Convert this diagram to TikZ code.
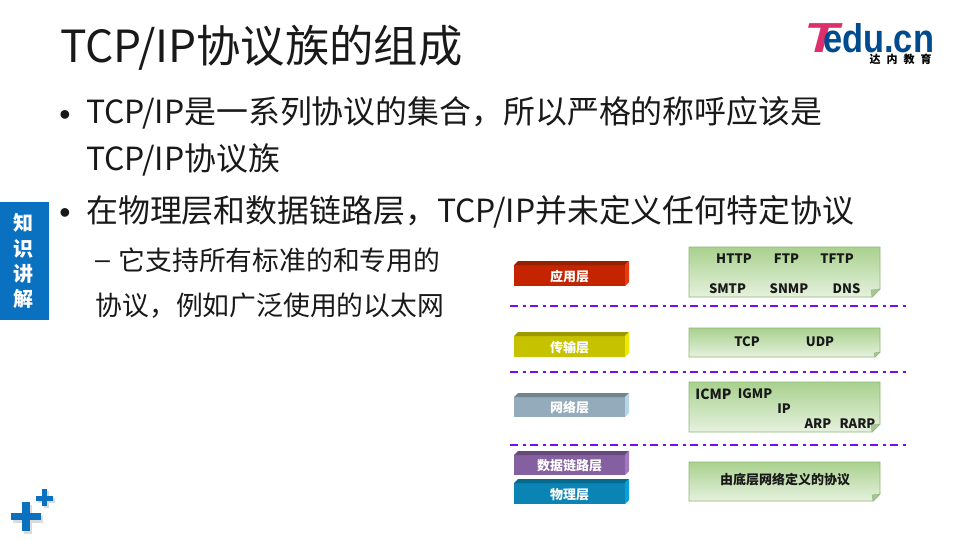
\documentclass[tikz,border=0pt]{standalone}
\usepackage{fontspec}
\setmainfont{Noto Sans CJK SC}
\newfontfamily\logofont{Liberation Sans}
\usetikzlibrary{calc}
\definecolor{sidebar}{HTML}{0A70C0}
\definecolor{noteline}{HTML}{8FB678}
\definecolor{notetop}{HTML}{A9D18E}
\definecolor{notebot}{HTML}{E6F1DE}
\definecolor{foldc}{HTML}{A8C596}
\definecolor{dashc}{HTML}{7A0AF0}
\definecolor{logoblue}{HTML}{004B8D}
\definecolor{logopink}{HTML}{DC2F6B}
\definecolor{fa}{HTML}{C42400}\definecolor{ta}{HTML}{962000}\definecolor{sa}{HTML}{E83A10}
\definecolor{fb}{HTML}{C6C200}\definecolor{tb}{HTML}{9C9800}\definecolor{sb}{HTML}{EDE900}
\definecolor{fc}{HTML}{93ABBB}\definecolor{tc}{HTML}{72858F}\definecolor{sc}{HTML}{B7D5E8}
\definecolor{fd}{HTML}{8560A0}\definecolor{td}{HTML}{67497C}\definecolor{sd}{HTML}{A478C0}
\definecolor{fe}{HTML}{0A83B5}\definecolor{te}{HTML}{066A8E}\definecolor{se}{HTML}{0AA0DC}
\tikzset{
  titletext/.style={anchor=west,inner sep=0pt,font=\fontsize{44.3}{50}\selectfont,text=black!90},
  bodytext/.style={anchor=west,inner sep=0pt,font=\fontsize{31.9}{38}\selectfont,text=black!90},
  subtext/.style={anchor=west,inner sep=0pt,font=\fontsize{26.8}{32}\selectfont,text=black!90},
  bullettext/.style={anchor=center,inner sep=0pt,font=\logofont\fontsize{32}{38}\selectfont,text=black!90},
  notetext/.style={inner sep=0pt,font=\bfseries\fontsize{13}{15}\selectfont,text=black!90},
  layertext/.style={inner sep=0pt,font=\bfseries\fontsize{13}{15}\selectfont,text=white},
  sidetext/.style={inner sep=0pt,font=\bfseries\fontsize{20}{24}\selectfont,text=white},
  sepline/.style={draw=dashc,line width=1.6pt,dash pattern=on 8pt off 4.5pt on 3pt off 4.5pt},
  plusbar/.style={fill=sidebar,draw=none},
  plusshade/.style={fill=black!14,draw=none},
}
% name, top y, bottom y, front, top band, side band, text
\newcommand{\layerbar}[7]{%
  \fill[#4] (514,#2+4) rectangle (625,#3);
  \fill[#5] (514,#2+4) -- (518,#2) -- (629,#2) -- (625,#2+4) -- cycle;
  \fill[#6] (625,#2+4) -- (629,#2) -- (629,#3-4) -- (625,#3) -- cycle;
  \node[layertext] (#1) at (569.5,{(#2+#3)/2+3}) {#7};
}
% top y, bottom y, fold size
\newcommand{\notebox}[3]{%
  \path[top color=notetop,bottom color=notebot,draw=noteline,line width=0.9pt]
    (689,#1) -- (880,#1) -- (880,#2-#3) -- (880-#3,#2) -- (689,#2) -- cycle;
  \fill[foldc,draw=noteline,line width=0.4pt] (880,#2-#3) -- (880-#3-1,#2-#3+1) -- (880-#3,#2) -- cycle;
}
\begin{document}
\begin{tikzpicture}[x=1pt,y=-1pt]
\useasboundingbox[fill=white] (0,0) rectangle (960,540);

% title and body
\node[titletext] (title) at (60,48) {TCP/IP协议族的组成};
\node[bullettext] (b1) at (65,118) {•};
\node[bodytext] (l1) at (86,113) {TCP/IP是一系列协议的集合，所以严格的称呼应该是};
\node[bodytext] (l2) at (86,160) {TCP/IP协议族};
\node[bullettext] (b2) at (65,216) {•};
\node[bodytext] (l3) at (86,212) {在物理层和数据链路层，TCP/IP并未定义任何特定协议};
\node[subtext,font=\logofont\fontsize{26.8}{32}\selectfont] (l4) at (95,265) {–};
\node[subtext] (l5) at (118.5,260) {它支持所有标准的和专用的};
\node[subtext] (l6) at (95.5,306) {协议，例如广泛使用的以太网};

% sidebar
\fill[sidebar] (0,202) rectangle (49,320);
\node[sidetext] (s1) at (23.5,223) {知};
\node[sidetext] (s2) at (23.5,249) {识};
\node[sidetext] (s3) at (23.5,274) {讲};
\node[sidetext] (s4) at (23.5,299) {解};

% plus signs
\fill[plusshade] (13,516) rectangle (43,523);
\fill[plusshade] (24,505) rectangle (32,534);
\fill[plusshade] (38,498) rectangle (55,503);
\fill[plusshade] (44,491) rectangle (49,508);
\fill[plusbar] (11,513) rectangle (41,520);
\fill[plusbar] (22,502) rectangle (30,531);
\fill[plusbar] (36,496) rectangle (53,501);
\fill[plusbar] (42,489) rectangle (47,506);

% logo
\node[anchor=base west,inner sep=0pt,font=\logofont\bfseries\itshape\fontsize{42}{42}\selectfont,text=logopink] (logoT) at (804,53) {\scalebox{1.35}[1]{T}};
\node[anchor=base west,inner sep=0pt,font=\logofont\bfseries\fontsize{40}{40}\selectfont,text=logoblue] (logoE) at (823,53) {\scalebox{0.86}[1]{edu.cn}};
\node[inner sep=0pt,font=\bfseries\fontsize{11}{12}\selectfont,text=black] (logoC) at (900.5,59.5) {达\hspace{6pt}内\hspace{6pt}教\hspace{6pt}育};

% layer bars
\layerbar{la}{261}{286}{fa}{ta}{sa}{应用层}
\layerbar{lb}{332}{357}{fb}{tb}{sb}{传输层}
\layerbar{lc}{393}{417}{fc}{tc}{sc}{网络层}
\layerbar{ld}{451}{475}{fd}{td}{sd}{数据链路层}
\layerbar{le}{479}{504}{fe}{te}{se}{物理层}

% separators
\coordinate (d1a) at (510,306); \coordinate (d1b) at (910,306);
\coordinate (d2a) at (510,372); \coordinate (d2b) at (910,372);
\coordinate (d3a) at (510,445); \coordinate (d3b) at (910,445);
\draw[sepline] (d1a) -- (d1b);
\draw[sepline] (d2a) -- (d2b);
\draw[sepline] (d3a) -- (d3b);

% protocol notes
\notebox{247}{297}{8}
\notebox{328}{357}{5}
\notebox{382}{432}{8}
\notebox{462}{501}{7}
\node[notetext] (http) at (734,259) {HTTP};
\node[notetext] (ftp) at (786.5,259) {FTP};
\node[notetext] (tftp) at (837,259) {TFTP};
\node[notetext] (smtp) at (727.5,289) {SMTP};
\node[notetext] (snmp) at (789,289) {SNMP};
\node[notetext] (dns) at (846.5,289) {DNS};
\node[notetext] (tcp) at (747,342) {TCP};
\node[notetext] (udp) at (820,342) {UDP};
\node[notetext,font=\bfseries\fontsize{14}{15}\selectfont] (icmp) at (713.5,394) {ICMP};
\node[notetext] (igmp) at (755,394) {IGMP};
\node[notetext] (ip) at (784,409) {IP};
\node[notetext] (arp) at (818,424) {ARP};
\node[notetext] (rarp) at (857.5,424) {RARP};
\node[notetext] (low) at (785,480) {由底层网络定义的协议};
\end{tikzpicture}
\end{document}
